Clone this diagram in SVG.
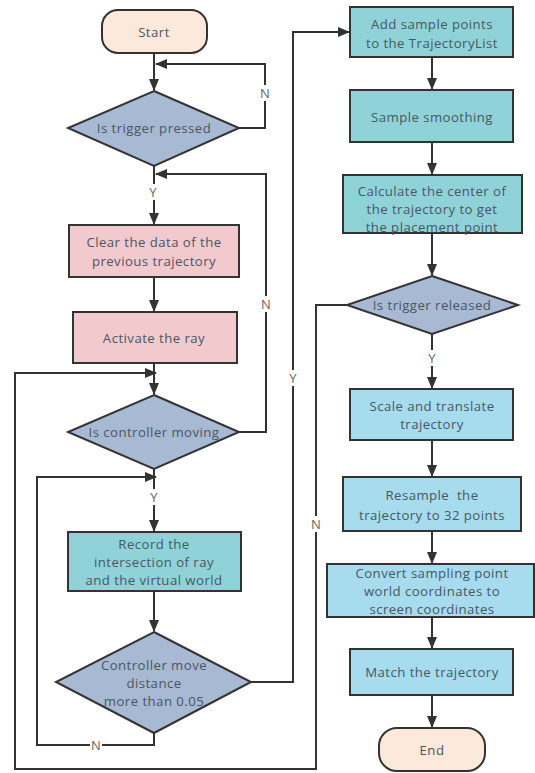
<svg xmlns="http://www.w3.org/2000/svg" width="535" height="773" viewBox="0 0 535 773">
<style>
  .n { stroke: #333; stroke-width: 2; }
  .term { fill: #fce9dc; }
  .pink { fill: #f2cacd; }
  .dia { fill: #a8b9d3; }
  .teal { fill: #8fd3d8; }
  .blue { fill: #a6dcee; }
  text { font-family: "Open Sans", "Noto Sans", sans-serif; font-size: 13.2px; letter-spacing: 0.45px; fill: #4a5663; text-anchor: middle; dominant-baseline: central; }
  .yn { font-size: 13px; letter-spacing: 0; fill: #666; }
  .c { fill: none; stroke: #333; stroke-width: 2; }
  .lbl { fill: #fff; stroke: none; }
</style>
<defs>
  <marker id="ah" viewBox="0 0 12 10" refX="11" refY="5" markerWidth="12" markerHeight="10" markerUnits="userSpaceOnUse" orient="auto">
    <path d="M0,0 L12,5 L0,10 Z" fill="#333"/>
  </marker>
</defs>
<rect width="535" height="773" fill="#fff"/>

<g id="connectors">
  <path class="c" d="M154,53 V90" marker-end="url(#ah)"/>
  <path class="c" d="M239,128 H265 V64 H156" marker-end="url(#ah)"/>
  <path class="c" d="M154,166 V224" marker-end="url(#ah)"/>
  <path class="c" d="M239,432 H266 V174 H156" marker-end="url(#ah)"/>
  <path class="c" d="M154,277 V311" marker-end="url(#ah)"/>
  <path class="c" d="M154,363 V394" marker-end="url(#ah)"/>
  <path class="c" d="M154,469 V531" marker-end="url(#ah)"/>
  <path class="c" d="M154,591 V631" marker-end="url(#ah)"/>
  <path class="c" d="M154,733 V745 H37 V477 H156" marker-end="url(#ah)"/>
  <path class="c" d="M251,682 H293 V32 H349" marker-end="url(#ah)"/>
  <path class="c" d="M432,57 V89" marker-end="url(#ah)"/>
  <path class="c" d="M432,142 V174" marker-end="url(#ah)"/>
  <path class="c" d="M432,233 V275" marker-end="url(#ah)"/>
  <path class="c" d="M432,334 V388" marker-end="url(#ah)"/>
  <path class="c" d="M347,305 H316 V769 H15 V373 H156" marker-end="url(#ah)"/>
  <path class="c" d="M432,440 V476" marker-end="url(#ah)"/>
  <path class="c" d="M432,531 V563" marker-end="url(#ah)"/>
  <path class="c" d="M432,617 V648" marker-end="url(#ah)"/>
  <path class="c" d="M432,695 V727" marker-end="url(#ah)"/>
  <rect class="lbl" x="259" y="85" width="12" height="16"/>
  <text class="yn" x="265" y="93">N</text>
  <rect class="lbl" x="147" y="184" width="12" height="16"/>
  <text class="yn" x="153" y="192">Y</text>
  <rect class="lbl" x="260" y="296" width="12" height="16"/>
  <text class="yn" x="266" y="304">N</text>
  <rect class="lbl" x="148" y="489" width="12" height="16"/>
  <text class="yn" x="154" y="497">Y</text>
  <rect class="lbl" x="90" y="737" width="12" height="16"/>
  <text class="yn" x="96" y="745">N</text>
  <rect class="lbl" x="287" y="370" width="12" height="16"/>
  <text class="yn" x="293" y="378">Y</text>
  <rect class="lbl" x="426" y="350" width="12" height="16"/>
  <text class="yn" x="432" y="358">Y</text>
  <rect class="lbl" x="310" y="516" width="12" height="16"/>
  <text class="yn" x="316" y="524">N</text>
</g>

<g id="start">
  <rect class="n term" x="102" y="10" width="105" height="43" rx="16"/>
  <text x="154" y="32">Start</text>
</g>
<g id="trigger-pressed">
  <polygon class="n dia" points="154,91 239,128 154,166 68,128"/>
  <text x="154" y="128">Is trigger pressed</text>
</g>
<g id="clear-data">
  <rect class="n pink" x="69" y="225" width="170" height="52"/>
  <text x="154" y="242">Clear the data of the</text>
  <text x="154" y="261">previous trajectory</text>
</g>
<g id="activate-ray">
  <rect class="n pink" x="73" y="312" width="164" height="51"/>
  <text x="154" y="338">Activate the ray</text>
</g>
<g id="controller-moving">
  <polygon class="n dia" points="154,395 239,432 154,469 68,432"/>
  <text x="154" y="432">Is controller moving</text>
</g>
<g id="record">
  <rect class="n teal" x="68" y="532" width="173" height="59"/>
  <text x="154" y="544">Record the</text>
  <text x="154" y="562">intersection of ray</text>
  <text x="154" y="580">and the virtual world</text>
</g>
<g id="move-distance">
  <polygon class="n dia" points="154,632 251,682 154,733 56,682"/>
  <text x="154" y="665">Controller move</text>
  <text x="154" y="683">distance</text>
  <text x="154" y="701">more than 0.05</text>
</g>
<g id="add-sample">
  <rect class="n teal" x="350" y="7" width="163" height="50"/>
  <text x="432" y="24">Add sample points</text>
  <text x="432" y="43">to the TrajectoryList</text>
</g>
<g id="sample-smoothing">
  <rect class="n teal" x="350" y="90" width="163" height="52"/>
  <text x="432" y="117">Sample smoothing</text>
</g>
<g id="calculate-center">
  <rect class="n teal" x="343" y="175" width="179" height="58"/>
  <text x="432" y="191">Calculate the center of</text>
  <text x="432" y="209">the trajectory to get</text>
  <text x="432" y="227">the placement point</text>
</g>
<g id="trigger-released">
  <polygon class="n dia" points="432,276 518,305 432,334 347,305"/>
  <text x="432" y="305">Is trigger released</text>
</g>
<g id="scale-translate">
  <rect class="n blue" x="350" y="389" width="163" height="51"/>
  <text x="432" y="406">Scale and translate</text>
  <text x="432" y="424">trajectory</text>
</g>
<g id="resample">
  <rect class="n blue" x="343" y="477" width="178" height="54"/>
  <text x="432" y="495" xml:space="preserve">Resample  the</text>
  <text x="432" y="515">trajectory to 32 points</text>
</g>
<g id="convert">
  <rect class="n blue" x="327" y="564" width="207" height="53"/>
  <text x="432" y="573">Convert sampling point</text>
  <text x="432" y="591">world coordinates to</text>
  <text x="432" y="609">screen coordinates</text>
</g>
<g id="match">
  <rect class="n blue" x="350" y="649" width="163" height="46"/>
  <text x="432" y="672">Match the trajectory</text>
</g>
<g id="end">
  <rect class="n term" x="379" y="728" width="106" height="43" rx="18"/>
  <text x="432" y="750">End</text>
</g>
</svg>
